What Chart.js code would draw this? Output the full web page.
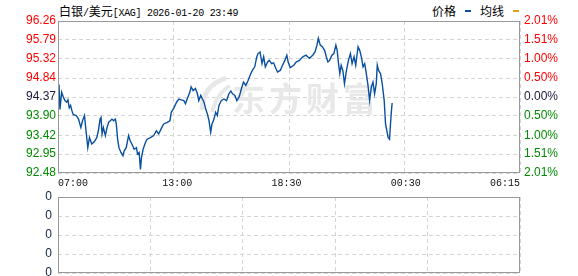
<!DOCTYPE html>
<html>
<head>
<meta charset="utf-8">
<script src="https://cdn.jsdelivr.net/npm/chart.js@4.4.1/dist/chart.umd.min.js"></script>
<style>
  html, body { margin: 0; padding: 0; background: #fff; }
  #wrap { position: relative; width: 578px; height: 276px; overflow: hidden; }
  canvas { position: absolute; left: 0; }
  #priceChart { top: 0; }
  #volChart { top: 190px; }
  .hd { position: absolute; top: 2px; height: 14px; line-height: 14px; white-space: nowrap; color: #000; }
  .cjk { font: 12px "Noto Sans CJK SC", sans-serif; }
  .mono { font: 10px "Liberation Mono", monospace; letter-spacing: -0.3px; }
  .key { display: inline-block; width: 6px; height: 2px; vertical-align: middle; margin: 0 9px 3px 9px; }
</style>
</head>
<body>
<div id="wrap">
  <div class="hd" style="left:59px"><span class="cjk">白银</span><span class="mono">/</span><span class="cjk">美元</span><span class="mono">[XAG] 2026-01-20 23:49</span></div>
  <div class="hd" style="left:432px"><span class="cjk">价格</span><span class="key" style="background:#0a50a0"></span><span class="cjk">均线</span><span class="key" style="background:#e0a010"></span></div>
  <canvas id="priceChart" width="578" height="195"></canvas>
  <canvas id="volChart" width="578" height="86"></canvas>
</div>
<script>
// time axis: minutes after 07:00, session runs to 06:15 next day
const SESSION_END = 1395;
const timeTicks = [0, 360, 690, 1050, 1395];
const timeLabels = ['07:00', '13:00', '18:30', '00:30', '06:15'];

const PREV_CLOSE = 94.37;
const priceTicks = [92.48, 92.95, 93.42, 93.90, 94.37, 94.84, 95.32, 95.79, 96.26];
const pctLabels = ['2.01%', '1.51%', '1.00%', '0.50%', '0.00%', '0.50%', '1.00%', '1.51%', '2.01%'];
const volLabels = ['0', '0', '0', '0', '0'];

// minute / price samples
const minutes = [
  0, 3, 6, 11, 16, 21, 26, 30, 34, 38, 42, 46, 55, 62, 69, 74, 80, 85, 90, 95, 102, 110,
  117, 122, 127, 130, 133, 137, 143, 148, 153, 158, 163, 168, 173, 176, 180, 184, 190, 196, 200, 206,
  213, 218, 223, 230, 237, 240, 245, 249, 252, 257, 264, 269, 279, 289, 297, 304, 311, 319, 330, 338,
  342, 350, 358, 365, 372, 380, 385, 390, 398, 402, 408, 415, 421, 425, 431, 436, 441, 446, 451, 456,
  461, 465, 471, 476, 481, 486, 493, 501, 509, 516, 522, 527, 534, 540, 547, 554, 560, 567, 574, 580,
  587, 594, 600, 604, 610, 616, 621, 626, 633, 638, 645, 651, 658, 663, 671, 678, 685, 691, 695, 701,
  712, 719, 729, 739, 749, 759, 769, 776, 782, 786, 792, 798, 805, 810, 815, 820, 827, 833, 839, 843,
  847, 851, 855, 860, 865, 871, 877, 883, 888, 894, 899, 906, 911, 916, 921, 926, 931, 936, 941, 946,
  951, 956, 961, 964, 968, 974, 979, 985, 989, 993, 997, 1001, 1004, 1007, 1009
];
const prices = [
  94.40, 94.68, 94.06, 94.49, 94.37, 94.28, 94.24, 94.30, 94.10, 94.16, 94.03, 93.93, 93.91, 93.82, 93.61, 93.78, 93.91, 93.49, 93.11, 93.36, 93.20, 93.26,
  93.36, 93.53, 93.82, 93.86, 93.45, 93.61, 93.41, 93.61, 93.74, 93.78, 93.82, 93.78, 93.82, 93.70, 93.32, 93.11, 92.99, 92.91, 93.03, 93.11,
  93.41, 93.28, 93.20, 93.07, 93.11, 92.95, 92.99, 92.57, 92.86, 93.07, 93.24, 93.32, 93.36, 93.41, 93.53, 93.45, 93.57, 93.70, 93.74, 93.78,
  93.99, 94.10, 94.24, 94.32, 94.30, 94.28, 94.20, 94.32, 94.49, 94.62, 94.53, 94.58, 94.45, 94.28, 94.41, 94.32, 94.24, 94.07, 93.95, 93.78,
  93.49, 93.70, 93.82, 93.99, 93.91, 94.16, 94.28, 94.32, 94.28, 94.45, 94.52, 94.45, 94.41, 94.28, 94.37, 94.58, 94.74, 94.66, 94.78, 94.91,
  95.03, 95.12, 95.36, 95.45, 95.49, 95.20, 95.37, 95.12, 95.24, 95.28, 95.20, 95.22, 95.08, 94.99, 95.03, 95.16, 95.28, 95.41, 95.24, 95.10,
  95.16, 95.24, 95.28, 95.37, 95.41, 95.33, 95.41, 95.49, 95.66, 95.83, 95.66, 95.62, 95.53, 95.37, 95.24, 95.28, 95.41, 95.45, 95.66, 95.53,
  95.20, 94.95, 95.16, 95.03, 94.70, 95.03, 95.28, 95.45, 95.20, 95.37, 95.16, 95.62, 95.53, 95.37, 95.12, 95.20, 94.95, 94.66, 94.28, 94.62,
  94.74, 94.45, 94.70, 95.16, 95.03, 94.95, 94.70, 94.28, 93.70, 93.53, 93.36, 93.32, 93.70, 94.05, 94.22
];

const RED = '#ff0000';
const GREEN = '#008a00';
const DARK = '#1a1a3a';
const GRID = '#d4d4d4';

function sideColor(v) {
  if (Math.abs(v - PREV_CLOSE) < 0.001) return DARK;
  return v > PREV_CLOSE ? RED : GREEN;
}

const frameBox = {
  id: 'frameBox',
  afterDraw(chart) {
    const { ctx, chartArea: a } = chart;
    ctx.save();
    ctx.strokeStyle = '#999';
    ctx.lineWidth = 1;
    ctx.strokeRect(a.left + 0.5, a.top + 0.5, a.right - a.left - 1, a.bottom - a.top - 1);
    ctx.restore();
  }
};

const watermark = {
  id: 'watermark',
  beforeDatasetsDraw(chart) {
    const { ctx, chartArea: a } = chart;
    const cx = a.left + 174, cy = a.top + 75;
    ctx.save();
    ctx.fillStyle = '#e8e8e8';
    ctx.strokeStyle = '#e8e8e8';
    // rough swirl logo
    ctx.lineWidth = 5;
    ctx.beginPath();
    ctx.moveTo(cx - 30, cy + 14);
    ctx.quadraticCurveTo(cx - 30, cy - 10, cx - 6, cy - 18);
    ctx.stroke();
    ctx.lineWidth = 4;
    ctx.beginPath();
    ctx.moveTo(cx - 20, cy + 16);
    ctx.quadraticCurveTo(cx - 14, cy - 4, cx - 2, cy - 10);
    ctx.stroke();
    ctx.font = 'bold 33px "Noto Sans CJK SC"';
    ctx.textBaseline = 'middle';
    ctx.textAlign = 'left';
    '东方财富'.split('').forEach((ch, i) => ctx.fillText(ch, cx + i * 37, cy + 2));
    ctx.restore();
  }
};

const quarterTicks = s => { s.ticks = [0, 1, 2, 3, 4].map(k => ({ value: SESSION_END * k / 4 })); };

new Chart(document.getElementById('priceChart'), {
  type: 'line',
  data: {
    datasets: [{
      label: '价格',
      data: minutes.map((m, i) => ({ x: m, y: prices[i] })),
      borderColor: '#0a50a0',
      borderWidth: 1.4,
      pointRadius: 0,
      tension: 0,
      xAxisID: 'x',
      yAxisID: 'y'
    }]
  },
  options: {
    responsive: false,
    animation: false,
    devicePixelRatio: 1,
    layout: { padding: { top: 21, left: 0, right: 0, bottom: 0 } },
    plugins: { legend: { display: false }, tooltip: { enabled: false } },
    scales: {
      xg: {
        type: 'linear', position: 'bottom', min: 0, max: SESSION_END,
        afterBuildTicks: quarterTicks,
        afterFit: s => { s.height = 0; },
        ticks: { display: false, autoSkip: false },
        grid: { color: GRID, drawTicks: false },
        border: { display: false, dash: [4, 3] }
      },
      x: {
        type: 'linear', position: 'bottom', min: 0, max: SESSION_END,
        afterBuildTicks: s => { s.ticks = timeTicks.map(v => ({ value: v })); },
        afterFit: s => { s.height = 22; },
        grid: { display: false, drawTicks: false },
        border: { display: false },
        ticks: {
          autoSkip: false, maxRotation: 0, align: 'inner', padding: 4,
          color: '#111', font: { family: '"Liberation Mono"', size: 10 },
          callback: (v, i) => timeLabels[i]
        }
      },
      y: {
        type: 'linear', position: 'left', min: priceTicks[0], max: priceTicks[priceTicks.length - 1],
        afterBuildTicks: s => { s.ticks = priceTicks.map(v => ({ value: v })); },
        afterFit: s => { s.width = 58; },
        grid: { color: GRID, drawTicks: false },
        border: { display: false, dash: [4, 3] },
        ticks: {
          autoSkip: false, padding: 2,
          font: { family: '"Liberation Sans"', size: 12 },
          color: c => sideColor(c.tick.value),
          callback: v => v.toFixed(2)
        }
      },
      y2: {
        type: 'linear', position: 'right', min: priceTicks[0], max: priceTicks[priceTicks.length - 1],
        afterBuildTicks: s => { s.ticks = priceTicks.map(v => ({ value: v })); },
        afterFit: s => { s.width = 58; },
        grid: { drawOnChartArea: false, drawTicks: false },
        border: { display: false },
        ticks: {
          autoSkip: false, padding: 4,
          font: { family: '"Liberation Sans"', size: 12 },
          color: c => sideColor(c.tick.value),
          callback: (v, i) => pctLabels[i]
        }
      }
    }
  },
  plugins: [watermark, frameBox]
});

new Chart(document.getElementById('volChart'), {
  type: 'bar',
  data: { datasets: [{ label: '成交量', data: [], backgroundColor: '#0a50a0' }] },
  options: {
    responsive: false,
    animation: false,
    devicePixelRatio: 1,
    layout: { padding: { top: 7, left: 0, right: 58, bottom: 0 } },
    plugins: { legend: { display: false }, tooltip: { enabled: false } },
    scales: {
      x: {
        type: 'linear', position: 'bottom', min: 0, max: SESSION_END,
        afterBuildTicks: quarterTicks,
        afterFit: s => { s.height = 3; },
        ticks: { display: false, autoSkip: false },
        grid: { color: GRID, drawTicks: false },
        border: { display: false, dash: [4, 3] }
      },
      y: {
        type: 'linear', position: 'left', min: 0, max: volLabels.length - 1,
        afterBuildTicks: s => { s.ticks = volLabels.map((_, i) => ({ value: i })); },
        afterFit: s => { s.width = 58; s.paddingTop = 0; s.paddingBottom = 0; },
        grid: { color: GRID, drawTicks: false },
        border: { display: false, dash: [4, 3] },
        ticks: {
          autoSkip: false, padding: 6,
          font: { family: '"Liberation Sans"', size: 12 },
          color: '#102040',
          callback: (v, i) => volLabels[i]
        }
      }
    }
  },
  plugins: [frameBox]
});
</script>
</body>
</html>
